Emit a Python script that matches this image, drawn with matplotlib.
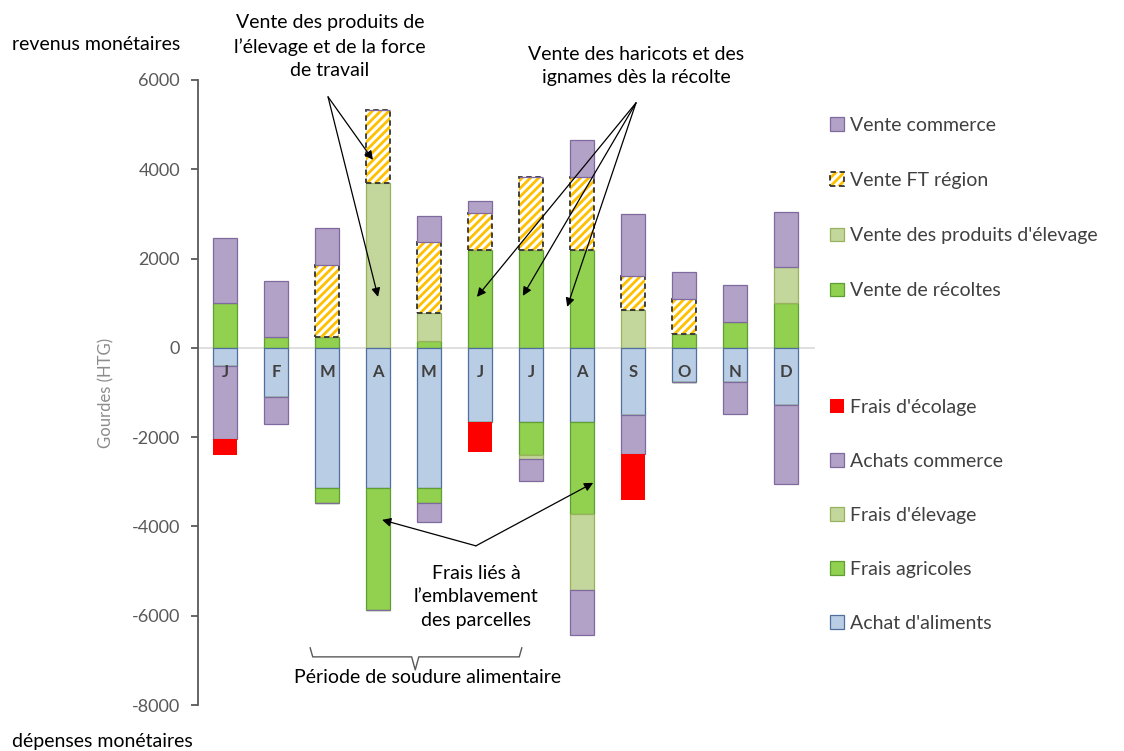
import numpy as np
import matplotlib
matplotlib.use("Agg")
import matplotlib.pyplot as plt
from matplotlib.legend_handler import HandlerTuple

# months and values in gourdes (HTG)
mois = ["J", "F", "M", "A", "M", "J", "J", "A", "S", "O", "N", "D"]

# revenus (positive side), bottom to top
vente_recoltes = [1000, 250, 250, 0, 150, 2200, 2200, 2200, 0, 300, 580, 1000]
vente_elevage = [0, 0, 0, 3700, 630, 0, 0, 0, 850, 0, 0, 820]
vente_ft = [0, 0, 1600, 1630, 1600, 830, 1630, 1620, 770, 800, 0, 0]
vente_commerce = [1450, 1250, 830, 0, 570, 270, 0, 830, 1380, 600, 820, 1230]

# dépenses (negative side), from zero downwards
achat_aliments = [-400, -1100, -3130, -3130, -3130, -1650, -1650, -1650, -1500, -770, -770, -1280]
frais_agricoles = [0, 0, -340, -2750, -340, 0, -750, -2070, 0, 0, 0, 0]
frais_elevage = [0, 0, 0, 0, 0, 0, -80, -1700, 0, 0, 0, 0]
achats_commerce = [-1650, -600, 0, 0, -430, 0, -500, -1010, -880, 0, -710, -1770]
frais_ecolage = [-350, 0, 0, 0, 0, -680, 0, 0, -1020, 0, 0, 0]

plt.rcParams['font.family'] = ['Lato', 'DejaVu Sans']
plt.rcParams['hatch.linewidth'] = 2.0
plt.rcParams['axes.unicode_minus'] = False

PURPLE = ('#B3A2C7', '#7E6A9E')
LGREEN = ('#C3D69B', '#98B25E')
GREEN = ('#92D050', '#5E9E32')
BLUE = ('#B9CDE5', '#4F6F9F')
RED = '#FF0000'
ORANGE = '#FFC000'

fig = plt.figure(figsize=(11.24, 7.51), dpi=100)
ax = fig.add_axes([198 / 1124, 1 - 705 / 751, (815 - 198) / 1124, (705 - 80) / 751])

x = np.arange(len(mois))
w = 0.48

# positive stack
bottom = np.zeros(len(mois))
b_rec = ax.bar(x, vente_recoltes, w, bottom=bottom, color=GREEN[0], edgecolor=GREEN[1], lw=0.9)
bottom += vente_recoltes
b_ele = ax.bar(x, vente_elevage, w, bottom=bottom, color=LGREEN[0], edgecolor=LGREEN[1], lw=0.9)
bottom += vente_elevage
b_ft = ax.bar(x, vente_ft, w, bottom=bottom, color='white', edgecolor=ORANGE, lw=0, hatch='////')
b_ft_edge = ax.bar(x, vente_ft, w, bottom=bottom, fill=False, edgecolor='#333333', lw=1.3, ls=(0, (3, 2)))
for i, v in enumerate(vente_ft):
    if v == 0:
        b_ft_edge[i].set_visible(False)
bottom += vente_ft
b_com = ax.bar(x, vente_commerce, w, bottom=bottom, color=PURPLE[0], edgecolor=PURPLE[1], lw=0.9)

# negative stack
bottom = np.zeros(len(mois))
b_ali = ax.bar(x, achat_aliments, w, bottom=bottom, color=BLUE[0], edgecolor=BLUE[1], lw=0.9)
bottom += achat_aliments
b_agr = ax.bar(x, frais_agricoles, w, bottom=bottom, color=GREEN[0], edgecolor=GREEN[1], lw=0.9)
bottom += frais_agricoles
b_fel = ax.bar(x, frais_elevage, w, bottom=bottom, color=LGREEN[0], edgecolor=LGREEN[1], lw=0.9)
bottom += frais_elevage
b_acom = ax.bar(x, achats_commerce, w, bottom=bottom, color=PURPLE[0], edgecolor=PURPLE[1], lw=0.9)
bottom += achats_commerce
b_eco = ax.bar(x, frais_ecolage, w, bottom=bottom, color=RED, edgecolor='none')

ax.axhline(0, color='#D9D9D9', lw=1.2, zorder=0.5)

# month letters inside the bars
for xi, m in zip(x, mois):
    ax.text(xi, -540, m, ha='center', va='center', fontsize=12, fontweight='bold', color='#404040')

ax.set_xlim(-0.53, 11.57)
ax.set_ylim(-8000, 6000)
ax.set_yticks(np.arange(-8000, 6001, 2000))
ax.set_xticks([])
for s in ['top', 'right', 'bottom']:
    ax.spines[s].set_visible(False)
ax.spines['left'].set_color('#595959')
ax.spines['left'].set_linewidth(1.3)
ax.tick_params(axis='y', colors='#595959', labelsize=13, length=5, width=1.3, pad=8)
ax.set_ylabel('Gourdes (HTG)', color='#8C8C8C', fontsize=12)
ax.yaxis.set_label_coords(-0.135, 0.5)

# annotations
arrow = dict(arrowstyle='-|>', color='black', lw=0.9, mutation_scale=13, shrinkA=0, shrinkB=0)
ax.text(2.06, 6743, "Vente des produits de\nl’élevage et de la force\nde travail", ha='center', va='center',
        fontsize=14, linespacing=1.45, clip_on=False)
for head in [(2.90, 4211), (3.0, 1142)]:
    ax.annotate('', xy=head, xytext=(2.02, 5623), arrowprops=arrow, annotation_clip=False)

ax.text(8.06, 6306, "Vente des haricots et des\nignames dès la récolte", ha='center', va='center',
        fontsize=14, linespacing=1.45, clip_on=False)
for head in [(4.94, 1142), (5.84, 1165), (6.71, 918)]:
    ax.annotate('', xy=head, xytext=(8.06, 5488), arrowprops=arrow, annotation_clip=False)

ax.text(4.92, -5578, "Frais liés à\nl’emblavement\ndes parcelles", ha='center', va='center',
        fontsize=14, linespacing=1.45, clip_on=False)
for head in [(3.08, -3853), (7.22, -3024)]:
    ax.annotate('', xy=head, xytext=(4.92, -4435), arrowprops=arrow, annotation_clip=False)

# brace for the lean season
bx = [1.67, 1.72, 3.66, 3.73, 3.80, 5.77, 5.82]
by = [-6720, -6922, -6922, -7213, -6922, -6922, -6720]
ax.plot(bx, by, color='#595959', lw=1, clip_on=False)
ax.text(3.98, -7392, "Période de soudure alimentaire", ha='center', va='center', fontsize=14, clip_on=False)

fig.text(12 / 1124, 1 - 45 / 751, "revenus monétaires", ha='left', va='center', fontsize=14)
fig.text(12 / 1124, 1 - 742 / 751, "dépenses monétaires", ha='left', va='center', fontsize=14)

# legends
leg_kw = dict(frameon=False, fontsize=14, handlelength=0.7, handleheight=0.7, handletextpad=0.35,
              borderpad=0, borderaxespad=0, labelcolor='#404040', loc='upper left')
h_top = [b_com, (b_ft[2], b_ft_edge[2]), b_ele, b_rec]
l_top = ["Vente commerce", "Vente FT région", "Vente des produits d'élevage", "Vente de récoltes"]
leg1 = fig.legend(h_top, l_top, bbox_to_anchor=(830 / 1124, 1 - 117 / 751), labelspacing=1.96,
                  handler_map={tuple: HandlerTuple(ndivide=1, pad=0)}, **leg_kw)
h_bot = [b_eco, b_acom, b_fel, b_agr, b_ali]
l_bot = ["Frais d'écolage", "Achats commerce", "Frais d'élevage", "Frais agricoles", "Achat d'aliments"]
leg2 = fig.legend(h_bot, l_bot, bbox_to_anchor=(830 / 1124, 1 - 399 / 751), labelspacing=1.9, **leg_kw)

fig.savefig('out.png', dpi=100)
